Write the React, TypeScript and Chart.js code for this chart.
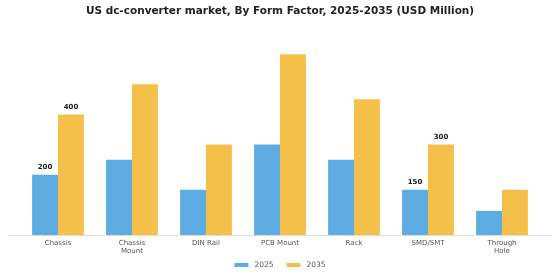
import React, { useEffect, useRef } from "react";
import { Chart, registerables } from "chart.js";

Chart.register(...registerables);

const categories: (string | string[])[] = [
  "Chassis",
  ["Chassis", "Mount"],
  "DIN Rail",
  "PCB Mount",
  "Rack",
  "SMD/SMT",
  ["Through", "Hole"],
];
const values2025 = [200, 250, 150, 300, 250, 150, 80];
const values2035 = [400, 500, 300, 600, 450, 300, 150];
const labeledIndices = [0, 5];
const titleText = "US dc-converter market, By Form Factor, 2025-2035 (USD Million)";

const FONT = "'DejaVu Sans', sans-serif";

const extras = {
  id: "extras",
  afterDatasetsDraw(chart: any) {
    const { ctx, chartArea } = chart;
    ctx.save();
    const yScale = chart.scales.y;
    const y0 = Math.round(yScale.getPixelForValue(0)) + 0.5;
    ctx.strokeStyle = "#dddddd";
    ctx.lineWidth = 1;
    ctx.beginPath();
    ctx.moveTo(chartArea.left - 13, y0);
    ctx.lineTo(chartArea.right + 13, y0);
    ctx.stroke();
    // value labels
    ctx.font = `bold 7px ${FONT}`;
    ctx.fillStyle = "#222222";
    ctx.textAlign = "center";
    ctx.textBaseline = "bottom";
    chart.data.datasets.forEach((ds: any, di: number) => {
      const meta = chart.getDatasetMeta(di);
      labeledIndices.forEach((i) => {
        const el = meta.data[i];
        if (!el) return;
        ctx.fillText(String(ds.data[i]), el.x, el.y - 4);
      });
    });
    // legend
    ctx.font = `7.5px ${FONT}`;
    ctx.textAlign = "left";
    ctx.textBaseline = "middle";
    const boxW = 14;
    const boxH = 4;
    const gapText = 6;
    const gapItem = 13;
    const items = chart.data.datasets.map((ds: any) => ({
      label: ds.label,
      color: ds.backgroundColor,
      w: ctx.measureText(ds.label).width,
    }));
    const total =
      items.reduce((s: number, it: any) => s + boxW + gapText + it.w, 0) + gapItem * (items.length - 1);
    let x = chart.width / 2 - total / 2;
    const cy = 265;
    items.forEach((it: any) => {
      ctx.fillStyle = it.color;
      ctx.fillRect(x, cy - boxH / 2, boxW, boxH);
      x += boxW + gapText;
      ctx.fillStyle = "#555555";
      ctx.fillText(it.label, x, cy + 0.5);
      x += it.w + gapItem;
    });
    ctx.restore();
  },
};

export default function App() {
  const ref = useRef<HTMLCanvasElement>(null);
  useEffect(() => {
    const chart = new Chart(ref.current!, {
      type: "bar",
      data: {
        labels: categories,
        datasets: [
          { label: "2025", data: values2025, backgroundColor: "#5DADE2" },
          { label: "2035", data: values2035, backgroundColor: "#F5C04A" },
        ],
      },
      options: {
        animation: false,
        responsive: false,
        maintainAspectRatio: false,
        layout: { padding: { left: 21, right: 21, top: 0, bottom: 20.2 } },
        datasets: { bar: { categoryPercentage: 0.7, barPercentage: 1.0 } } as any,
        scales: {
          x: {
            grid: { display: false, drawTicks: false },
            border: { display: false },
            ticks: { font: { family: FONT, size: 7 }, color: "#555555", padding: 4, maxRotation: 0, autoSkip: false },
          },
          y: { display: false, min: 0, max: 700 },
        },
        plugins: {
          title: {
            display: true,
            text: titleText,
            font: { family: FONT, size: 10.5, weight: "bold" },
            color: "#222222",
            padding: { top: 5, bottom: 6.4 },
          },
          legend: { display: false },
          tooltip: { enabled: false },
        },
      },
      plugins: [extras],
    });
    return () => chart.destroy();
  }, []);
  return (
    <div style={{ position: "fixed", left: 0, top: 0, width: 560, height: 280 }}>
      <canvas ref={ref} width={560} height={280} style={{ width: 560, height: 280 }} />
    </div>
  );
}
